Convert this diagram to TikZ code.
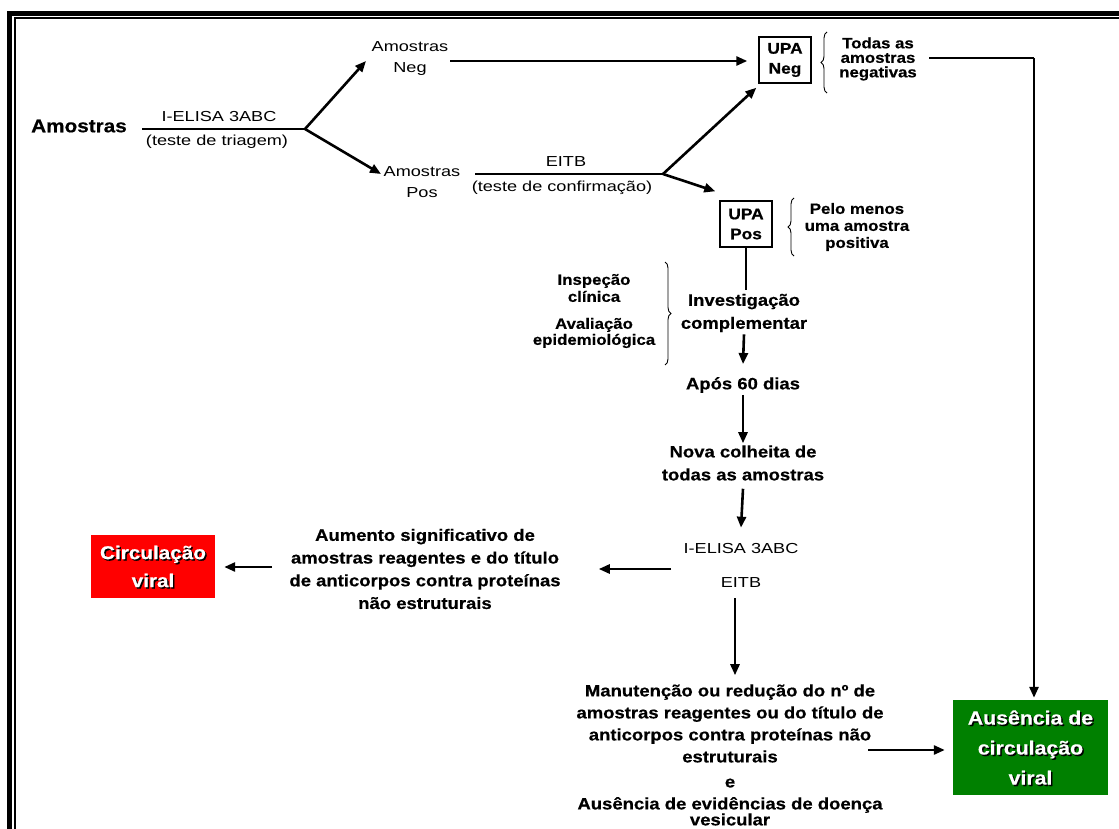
\documentclass[tikz,border=0pt]{standalone}
\usepackage{fontspec}
\setmainfont{Liberation Sans}
\newfontfamily\rgf[FakeStretch=1.25]{Liberation Sans}
\newfontfamily\bdf[FakeStretch=1.12, BoldFeatures={FakeBold=0.5}]{Liberation Sans}
\usetikzlibrary{arrows.meta,decorations.pathreplacing}
\definecolor{redbox}{RGB}{255,0,0}
\definecolor{greenbox}{RGB}{0,128,0}
\begin{document}
\begin{tikzpicture}[x=1pt,y=-1pt,
  rg/.style={font=\rgf\fontsize{14.5}{21}\selectfont, align=center, inner sep=0pt},
  bd/.style={font=\bdf\bfseries\fontsize{16.5}{22.5}\selectfont, align=center, inner sep=0pt},
  bdsm/.style={font=\bdf\bfseries\fontsize{15}{14.5}\selectfont, align=center, inner sep=0pt},
  upa/.style={draw, line width=1.4pt, minimum width=52pt, minimum height=46pt, inner sep=0pt,
    font=\bdf\bfseries\fontsize{15.5}{20}\selectfont, align=center},
  arr/.style={line width=2.6pt, -{Triangle[length=11pt,width=9pt]}},
  ln/.style={line width=1.5pt},
  brc/.style={decorate, decoration={brace, amplitude=6pt}, line width=0.9pt},
  boxtxt/.style={font=\bdf\bfseries\fontsize{19}{30}\selectfont, align=center, inner sep=0pt},
]
\useasboundingbox (0,0) rectangle (1119,829);
\clip (0,0) rectangle (1119,829);
\fill[white] (0,0) rectangle (1119,829);
% frame
\draw[line width=5.5pt] (9.5,840) -- (9.5,13.5) -- (1130,13.5);
\draw[line width=1.8pt] (15,840) -- (15,18.2) -- (1130,18.2);

% first stage
\node[bd, font=\bdf\bfseries\fontsize{18.5}{22}\selectfont] (amo) at (79,126) {Amostras};
\coordinate (l1) at (142,129);
\coordinate (j1) at (305,129);
\draw[ln] (l1) -- (j1);
\node[rg] (ie1) at (219,117) {I-ELISA 3ABC};
\node[rg] (tt1) at (217,142) {(teste de triagem)};
\node[rg] (amneg) at (410,59) {Amostras\\Neg};
\node[rg] (ampos) at (422,182) {Amostras\\Pos};
\coordinate (t1) at (366,61);
\coordinate (t2) at (381,174);
\draw[arr] (j1) -- (t1);
\draw[arr] (j1) -- (t2);

% UPA boxes
\node[upa] (upaneg) at (785,60) {UPA\\Neg};
\node[upa] (upapos) at (746,224) {UPA\\Pos};
\draw[arr] ([shift={(2,2)}]amneg.east) -- ([shift={(-11,1)}]upaneg.west);

% EITB stage
\coordinate (l2) at (475,174);
\coordinate (j2) at (663,174);
\draw[ln] (l2) -- (j2);
\node[rg] (eitb1) at (566,162) {EITB};
\node[rg] (tc1) at (562,188) {(teste de confirmação)};
\draw[arr] (j2) -- ([shift={(-2,4)}]upaneg.south west);
\draw[arr] (j2) -- ([shift={(-4,-9)}]upapos.north west);

% braces and notes
\draw[brc] (827,93) -- (827,32);
\node[bdsm] (todas) at (878,59) {Todas as\\amostras\\negativas};
\draw[brc] (794,256) -- (794,198);
\node[bdsm, font=\bdf\bfseries\fontsize{15}{17}\selectfont] (pelo) at (857,227) {Pelo menos\\uma amostra\\positiva};

% to Ausencia
\coordinate (c1) at (929,58);
\coordinate (c2) at (1034,58);
\node[fill=greenbox, minimum width=155pt, minimum height=95pt, inner sep=0pt] (aus) at (1030.5,747.5) {};
\draw[line width=2.2pt] (c1) -- (c2);
\draw[arr] (c2) -- ([shift={(0,-2)}]aus.north -| c2);

% vertical chain
\node[bd, font=\bdf\bfseries\fontsize{16.5}{23}\selectfont] (inv) at (744,313) {Investigação\\complementar};
\draw[line width=2.6pt] (upapos.south) -- ([shift={(0,-4)}]inv.north -| upapos.south);
\node[bd] (apos) at (743,385) {Após 60 dias};
\node[bd, font=\bdf\bfseries\fontsize{16.5}{23}\selectfont] (nova) at (743,463) {Nova colheita de\\todas as amostras};
\draw[arr] ([shift={(0,2)}]inv.south) -- ([shift={(0,-13)}]apos.north);
\draw[arr] ([shift={(0,2)}]apos.south) -- ([shift={(0,-2)}]nova.north);

% left brace group
\draw[brc] (665,262) -- (665,365);
\node[bdsm, font=\bdf\bfseries\fontsize{15}{17}\selectfont] (insp) at (594,288) {Inspeção\\clínica};
\node[bdsm, font=\bdf\bfseries\fontsize{15}{16}\selectfont] (aval) at (594,333) {Avaliação\\epidemiológica};

% tests
\node[rg] (ie2) at (741,549) {I-ELISA 3ABC};
\node[rg] (eitb2) at (741,583) {EITB};
\draw[arr] ([shift={(0,8)}]nova.south) -- ([shift={(0,-16)}]ie2.north);

% Aumento -> Circulacao
\node[bd, font=\bdf\bfseries\fontsize{16.5}{22.7}\selectfont] (aum) at (425,569) {Aumento significativo de\\amostras reagentes e do título\\de anticorpos contra proteínas\\não estruturais};
\coordinate (a1) at (671,569);
\draw[arr] (a1) -- ([xshift=38pt]aum.east |- a1);
\node[fill=redbox, minimum width=124pt, minimum height=63pt, inner sep=0pt] (circ) at (153,566.5) {};
\coordinate (a2) at (272,567);
\draw[arr] (a2) -- ([xshift=9pt]circ.east |- a2);
\node[boxtxt, font=\bdf\bfseries\fontsize{18.5}{28}\selectfont, black] at ([shift={(1.5,1.5)}]circ.center) {Circulação\\viral};
\node[boxtxt, font=\bdf\bfseries\fontsize{18.5}{28}\selectfont, white] (circt) at (circ.center) {Circulação\\viral};

% bottom
\node[bd, font=\bdf\bfseries\fontsize{16.5}{22}\selectfont] (man) at (730,755) {Manutenção ou redução do nº de\\amostras reagentes ou do título de\\anticorpos contra proteínas não\\estruturais\\[3pt]e\\Ausência de evidências de doença\\[-6pt]vesicular};
\coordinate (d1) at (735,0);
\draw[arr] ([shift={(0,10)}]eitb2.south -| d1) -- ([shift={(0,-9)}]man.north -| d1);
\coordinate (b1) at (868,750);
\draw[arr] (b1) -- ([xshift=-8pt]aus.west |- b1);
\node[boxtxt, black] at ([shift={(1.5,1.5)}]aus.center) {Ausência de\\circulação\\viral};
\node[boxtxt, white] (aust) at (aus.center) {Ausência de\\circulação\\viral};
\end{tikzpicture}
\end{document}
